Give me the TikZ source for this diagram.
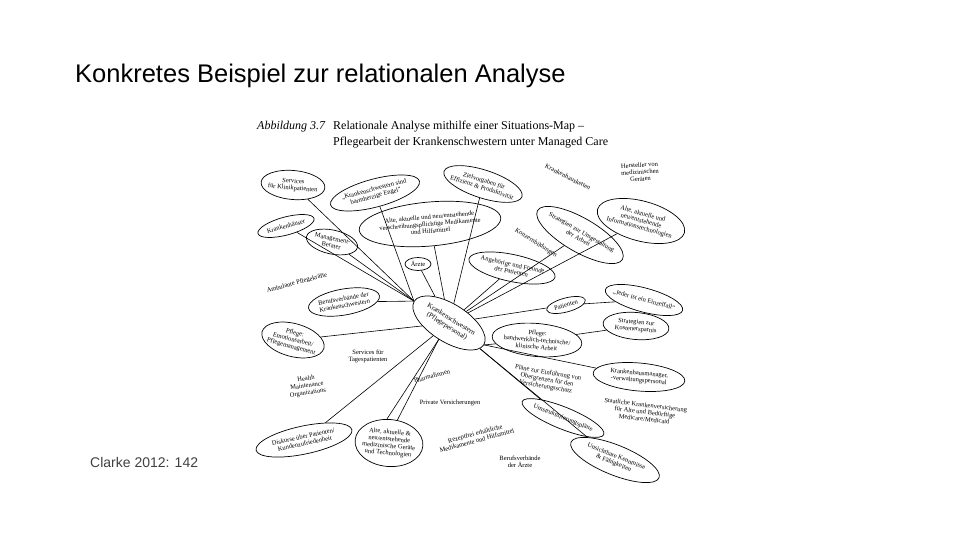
\documentclass[tikz,border=0pt]{standalone}
\usepackage{fontspec}
\setmainfont{Liberation Serif}
\newfontfamily\sansf{Liberation Sans}
\usetikzlibrary{shapes.geometric}
\tikzset{
  ell/.style={draw, ellipse, line width=0.7pt, inner sep=-40pt, align=center,
    font=\fontsize{6.5}{7}\selectfont},
  lbl/.style={inner sep=0pt, align=center, font=\fontsize{6.5}{7}\selectfont},
  hdr/.style={inner sep=0pt, anchor=base west, font=\fontsize{12}{13}\selectfont},
  conn/.style={line width=0.6pt},
}
\begin{document}
\begin{tikzpicture}[x=1pt,y=-1pt]
\useasboundingbox (0,0) rectangle (960,540);
% slide texts
\node[inner sep=0pt, anchor=base west, font=\sansf\fontsize{25.5}{28}\selectfont] (title) at (75,83) {Konkretes Beispiel zur relationalen Analyse};
\node[inner sep=0pt, anchor=base west, text=black!75, font=\sansf\fontsize{14}{16}\selectfont] (cite) at (90,467) {Clarke 2012: 142};
% figure header
\node[hdr, font=\fontsize{12}{13}\selectfont\itshape] (hA) at (257,130) {Abbildung 3.7};
\node[hdr] (hB) at (333,130) {Relationale Analyse mithilfe einer Situations-Map --};
\node[hdr] (hC) at (333,146) {Pflegearbeit der Krankenschwestern unter Managed Care};
% centre
\node[ell, minimum width=82, minimum height=38, rotate=-32, font=\fontsize{7}{8}\selectfont] (K) at (449,323) {Krankenschwestern\\(Pflegepersonal)};
% ellipses
\node[ell, minimum width=64, minimum height=29, rotate=-5] (sk) at (293,185) {Services\\für Klinikpatienten};
\node[ell, minimum width=92, minimum height=28, rotate=15] (engel) at (375,193) {„Krankenschwestern sind\\barmherzige Engel“};
\node[ell, minimum width=82, minimum height=28, rotate=-18] (ziel) at (483,184) {Zielvorgaben für\\Effizienz \& Produktivität};
\node[ell, minimum width=142, minimum height=44, rotate=5] (medi) at (430,224) {Alte, aktuelle und neu/entstehende\\verschreibungspflichtige Medikamente\\und Hilfsmittel};
\node[ell, minimum width=58, minimum height=18, rotate=15] (kh) at (286,226) {Krankenhäuser};
\node[ell, minimum width=52, minimum height=24, rotate=-12] (mb) at (332,242) {Management-\\Berater};
\node[ell, minimum width=26, minimum height=13] (aerzte) at (418,264) {Ärzte};
\node[ell, minimum width=98, minimum height=34, rotate=-30] (strat) at (580,235) {Strategien zur Umgestaltung\\der Arbeit};
\node[ell, minimum width=90, minimum height=40, rotate=-15] (info) at (641,221) {Alte, aktuelle und\\neu/entstehende\\Informationstechnologien};
\node[ell, minimum width=88, minimum height=27, rotate=-12] (angeh) at (512,268) {Angehörige und Freunde\\der Patienten};
\node[ell, minimum width=72, minimum height=26, rotate=10] (bvk) at (344,302) {Berufsverbände der\\Krankenschwestern};
\node[ell, minimum width=40, minimum height=14, rotate=15] (pat) at (566,305) {Patienten};
\node[ell, minimum width=80, minimum height=24, rotate=-15] (jeder) at (644,300) {„Jeder ist ein Einzelfall“};
\node[ell, minimum width=66, minimum height=27, rotate=-5] (kosten) at (636,326) {Strategien zur\\Kostenersparnis};
\node[ell, minimum width=64, minimum height=33, rotate=-15] (pemo) at (293,340) {Pflege:\\Emotionsarbeit/\\Pflegemanagement};
\node[ell, minimum width=90, minimum height=33, rotate=-5] (phand) at (537,340) {Pflege:\\handwerklich-technische/\\klinische Arbeit};
\node[ell, minimum width=92, minimum height=28, rotate=-5] (khman) at (639,377) {Krankenhausmanager,\\-verwaltungspersonal};
\node[ell, minimum width=88, minimum height=22, rotate=-22] (umstr) at (563,418) {Umstrukturierungspläne};
\node[ell, minimum width=68, minimum height=47, rotate=-5] (geraete) at (389,443) {Alte, aktuelle \&\\neu/entstehende\\medizinische Geräte\\und Technologien};
\node[ell, minimum width=98, minimum height=28, rotate=12] (diskurse) at (304,440) {Diskurse über Patienten/\\Kundenzufriedenheit};
\node[ell, minimum width=95, minimum height=30, rotate=-22] (unsicht) at (615,460) {Unsichtbare Kenntnisse\\\& Fähigkeiten};
% free labels
\node[lbl, rotate=-32] (kbild) at (536,243) {Konzernbildungen};
\node[lbl, rotate=-27] (kketten) at (568,177) {Krankenhausketten};
\node[lbl, rotate=4] (herst) at (640,172) {Hersteller von\\medizinischen\\Geräten};
\node[lbl, rotate=15] (ambul) at (297,283) {Ambulante Pflegekräfte};
\node[lbl] (stp) at (368,356) {Services für\\Tagespatienten};
\node[lbl, rotate=8] (hmo) at (307,386) {Health\\Maintenance\\Organizations};
\node[lbl, rotate=15] (pharma) at (432,376) {Pharmafirmen};
\node[lbl, rotate=-10] (plaene) at (547,380) {Pläne zur Einführung von\\Obergrenzen für den\\Versicherungsschutz};
\node[lbl] (privat) at (450,403) {Private Versicherungen};
\node[lbl, rotate=-7] (staat) at (645,412) {Staatliche Krankenversicherung\\für Alte und Bedürftige\\Medicare/Medicaid};
\node[lbl, rotate=15] (rezept) at (476,437) {Rezeptfrei erhältliche\\Medikamente und Hilfsmittel};
\node[lbl] (bva) at (520,462) {Berufsverbände\\der Ärzte};
% connectors
\draw[conn] (sk) -- (K.west);
\draw[conn] (engel) -- (K.west);
\draw[conn] (kh) -- (K.west);
\draw[conn] (mb) -- (K.west);
\draw[conn] (bvk) -- (K.west);
\draw[conn] (pemo) -- (K);
\draw[conn] (medi) -- (K);
\draw[conn] (aerzte) -- (K);
\draw[conn] (ziel) -- (K);
\draw[conn] (angeh) -- (K);
\draw[conn] (strat) -- (K);
\draw[conn] (info) -- (K);
\draw[conn] (pat) -- (K);
\draw[conn] (phand) -- (K.east);
\draw[conn] (khman) -- (K.east);
\draw[conn] (diskurse) -- (K);
\draw[conn] (geraete.75) -- (K.south);
\draw[conn] (geraete.100) -- (K.south);
\draw[conn] (umstr) -- (K);
\draw[conn] (unsicht) -- (K);
\draw[conn] (jeder) -- (pat);
\draw[conn] (kosten) -- (phand);
\end{tikzpicture}
\end{document}
